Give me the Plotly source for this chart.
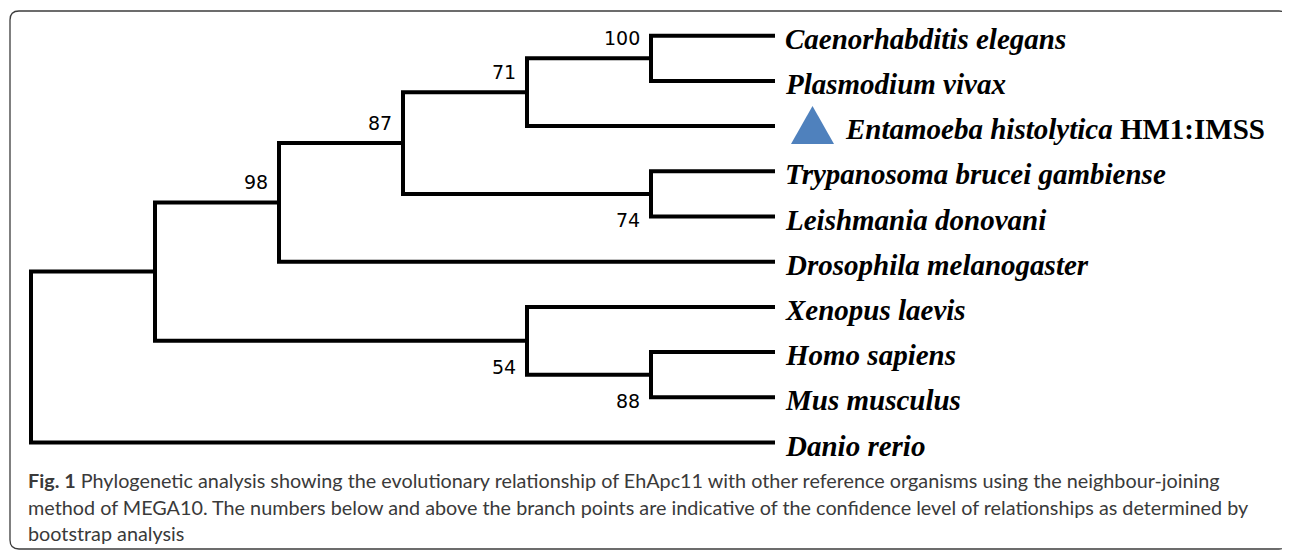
import plotly.graph_objects as go

# leaves, top to bottom
leaves = [
    "Caenorhabditis elegans",
    "Plasmodium vivax",
    "Entamoeba histolytica",
    "Trypanosoma brucei gambiense",
    "Leishmania donovani",
    "Drosophila melanogaster",
    "Xenopus laevis",
    "Homo sapiens",
    "Mus musculus",
    "Danio rerio",
]
leaf_suffix = ["", "", "HM1:IMSS", "", "", "", "", "", "", ""]

# internal nodes (neighbour-joining topology) and bootstrap support
nodes = ["n100", "n71", "n74", "n87", "n98", "n88", "n54", "nA", "root"]
left_child = ["Caenorhabditis elegans", "n100", "Trypanosoma brucei gambiense", "n71", "n87",
              "Homo sapiens", "Xenopus laevis", "n98", "nA"]
right_child = ["Plasmodium vivax", "Entamoeba histolytica", "Leishmania donovani", "n74",
               "Drosophila melanogaster", "Mus musculus", "n88", "n54", "Danio rerio"]
bootstrap = [100, 71, 74, 87, 98, 88, 54, None, None]
label_side = ["above", "above", "below", "above", "above", "below", "below", "", ""]

query_leaf = "Entamoeba histolytica"

caption_lines = [
    "<b>Fig. 1</b> Phylogenetic analysis showing the evolutionary relationship of EhApc11 with other "
    "reference organisms using the neighbour-joining",
    "method of MEGA10. The numbers below and above the branch points are indicative of the confidence "
    "level of relationships as determined by",
    "bootstrap analysis",
]

# cladogram layout: leaves aligned, node x from subtree height
height = {name: 0 for name in leaves}
ypos = {name: i for i, name in enumerate(leaves)}
for n, l, r in zip(nodes, left_child, right_child):
    height[n] = max(height[l], height[r]) + 1
    ypos[n] = (ypos[l] + ypos[r]) / 2
top = height["root"]
xpos = {k: top - h for k, h in height.items()}

xs, ys = [], []
for n, l, r in zip(nodes, left_child, right_child):
    xs += [xpos[l], xpos[n], xpos[n], xpos[r], None]
    ys += [ypos[l], ypos[l], ypos[r], ypos[r], None]

fig = go.Figure()
fig.add_trace(go.Scatter(
    x=xs, y=ys, mode="lines",
    line=dict(color="black", width=4),
    hoverinfo="skip", showlegend=False,
))

serif = "Liberation Serif, Times New Roman, serif"
for name, suf in zip(leaves, leaf_suffix):
    txt = "<i>%s</i>" % name + (" " + suf if suf else "")
    fig.add_annotation(
        x=xpos[name], y=ypos[name], text="<b>%s</b>" % txt,
        showarrow=False, xanchor="left", yanchor="middle",
        xshift=68 if name == query_leaf else 8, yshift=-3,
        font=dict(family=serif, size=29, color="black"),
    )

for n, b, side in zip(nodes, bootstrap, label_side):
    if b is None:
        continue
    fig.add_annotation(
        x=xpos[n], y=ypos[n], text=str(b),
        showarrow=False, xanchor="right", yanchor="middle",
        xshift=-9, yshift=20 if side == "above" else -26,
        font=dict(family="DejaVu Sans", size=19, color="black"),
    )

# marker for the query organism
fig.add_shape(
    type="path", xref="x", yref="y",
    xsizemode="pixel", ysizemode="pixel",
    xanchor=xpos[query_leaf], yanchor=ypos[query_leaf],
    path="M 16,-18 L 59,-18 L 37.5,20 Z",
    fillcolor="#4f81bd", line=dict(width=0),
)

# page body adds an 8px margin, so the figure is laid out 8px up/left
OFF = 8
W, H = 1290 - OFF, 550 - OFF

# rounded frame
x0, x1, y0, y1, rr = 10 - OFF, 1288 - OFF, 11 - OFF, 549 - OFF, 9
def px(x, y):
    return "%.5f,%.5f" % (x / W, 1 - y / H)
frame = ("M " + px(x0, y1 - rr) + " L " + px(x0, y0 + rr) + " Q " + px(x0, y0) + " " + px(x0 + rr, y0)
         + " L " + px(x1 - rr, y0) + " Q " + px(x1, y0) + " " + px(x1, y0 + rr)
         + " L " + px(x1, y1 - rr) + " Q " + px(x1, y1) + " " + px(x1 - rr, y1)
         + " L " + px(x0 + rr, y1) + " Q " + px(x0, y1) + " " + px(x0, y1 - rr) + " Z")
fig.add_shape(type="path", xref="paper", yref="paper", path=frame,
              line=dict(color="#3c3c3c", width=1.3), layer="below")

for i, line in enumerate(caption_lines):
    fig.add_annotation(
        x=(26 - OFF) / W, y=1 - (480 - OFF + 26.5 * i) / H, xref="paper", yref="paper",
        text=line, showarrow=False, xanchor="left", yanchor="middle",
        font=dict(family="Lato", size=19.8, color="#3a3a3a"),
    )

x_root, y_top, dx, dy = 31 - OFF, 35.7 - OFF, 124, 45.2
fig.update_xaxes(visible=False, range=[-x_root / dx, (W - x_root) / dx], fixedrange=True)
fig.update_yaxes(visible=False, range=[(H - y_top) / dy, -y_top / dy], fixedrange=True)
fig.update_layout(
    width=W, height=H,
    margin=dict(l=0, r=0, t=0, b=0),
    plot_bgcolor="white", paper_bgcolor="white",
)

fig.write_html("out.html", config={"displayModeBar": False})
